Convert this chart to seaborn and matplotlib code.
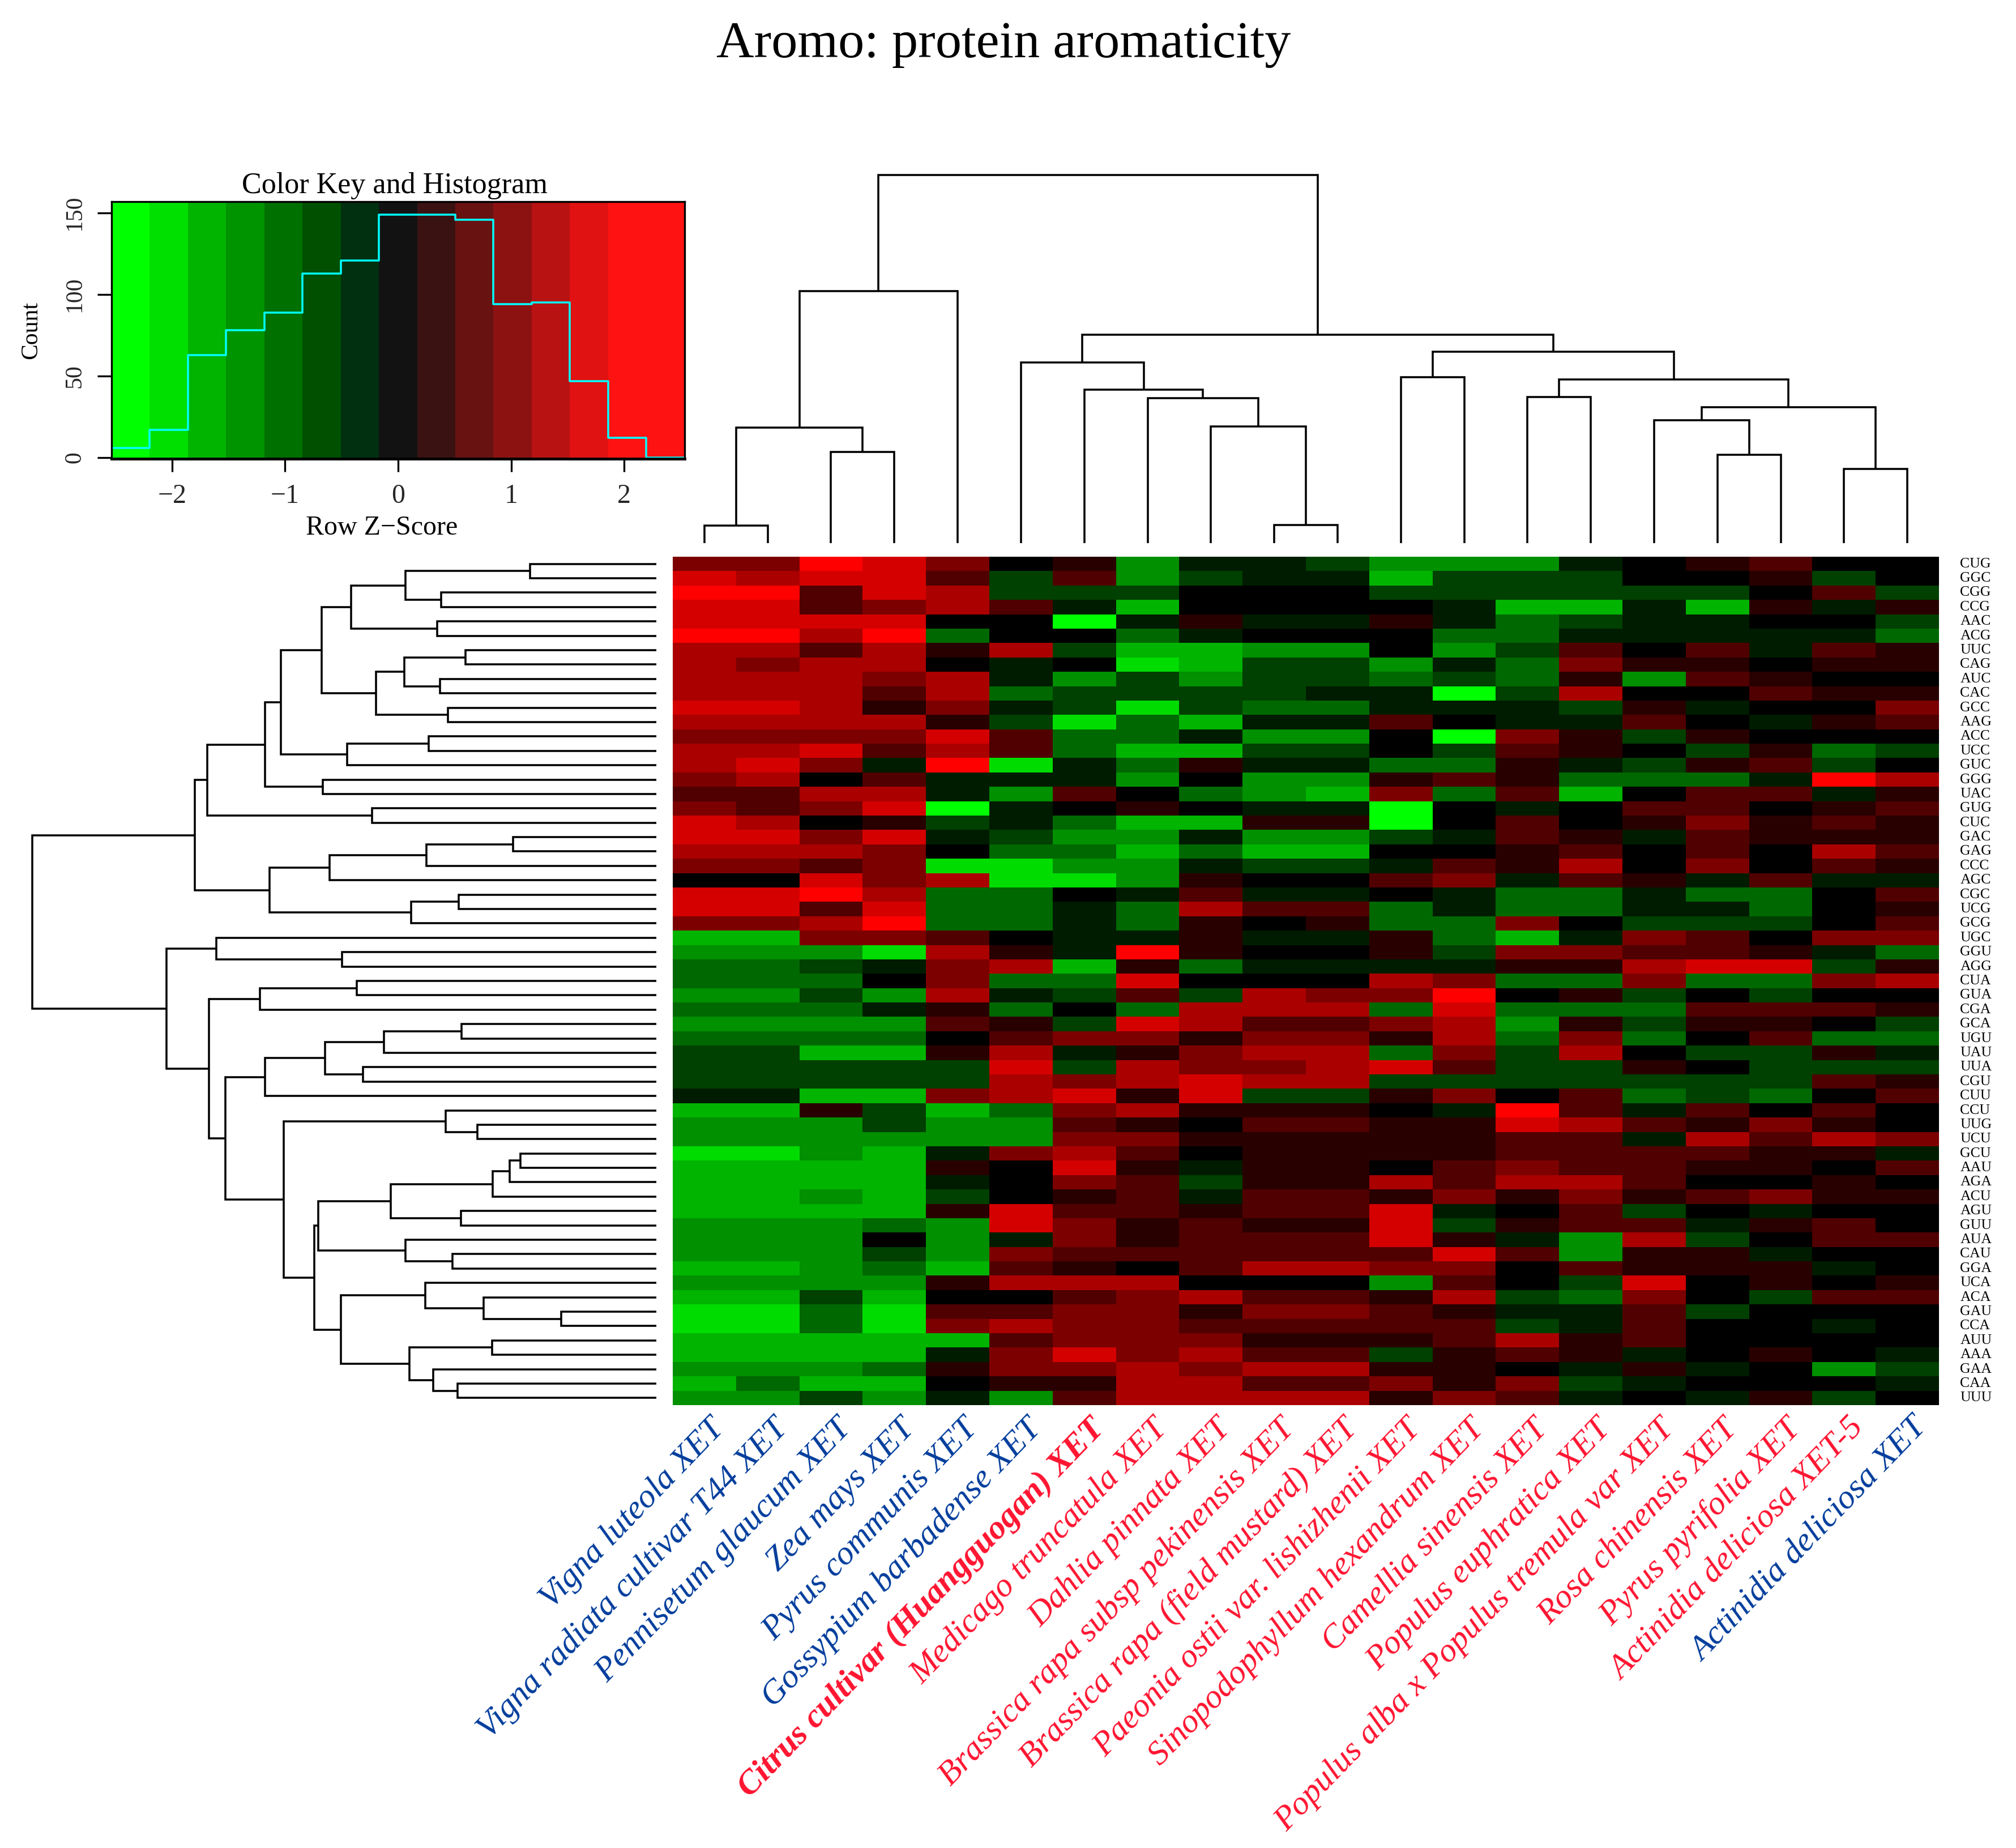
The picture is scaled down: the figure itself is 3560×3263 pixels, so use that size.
import matplotlib
matplotlib.use("Agg")
import matplotlib.pyplot as plt
from matplotlib.colors import ListedColormap
from matplotlib.transforms import ScaledTranslation
import numpy as np
import seaborn as sns

FIG_W, FIG_H = 3561, 3263

species = [
    "Vigna luteola XET", "Vigna radiata cultivar T44 XET", "Pennisetum glaucum XET",
    "Zea mays XET", "Pyrus communis XET", "Gossypium barbadense XET",
    "Citrus cultivar (Huangguogan) XET", "Medicago truncatula XET", "Dahlia pinnata XET",
    "Brassica rapa subsp pekinensis XET", "Brassica rapa (field mustard) XET",
    "Paeonia ostii var. lishizhenii XET", "Sinopodophyllum hexandrum XET",
    "Camellia sinensis XET", "Populus euphratica XET",
    "Populus alba x Populus tremula var XET", "Rosa chinensis XET",
    "Pyrus pyrifolia XET", "Actinidia deliciosa XET-5", "Actinidia deliciosa XET",
]
species_group = ["dicot"] * 6 + ["citrus"] + ["other"] * 12 + ["dicot"]

codons = [
    "CUG", "GGC", "CGG", "CCG", "AAC", "ACG", "UUC", "CAG", "AUC", "CAC",
    "GCC", "AAG", "ACC", "UCC", "GUC", "GGG", "UAC", "GUG", "CUC", "GAC",
    "GAG", "CCC", "AGC", "CGC", "UCG", "GCG", "UGC", "GGU", "AGG", "CUA",
    "GUA", "CGA", "GCA", "UGU", "UAU", "UUA", "CGU", "CUU", "CCU", "UUG",
    "UCU", "GCU", "AAU", "AGA", "ACU", "AGU", "GUU", "AUA", "CAU", "GGA",
    "UCA", "ACA", "GAU", "CCA", "AUU", "AAA", "GAA", "CAA", "UUU",
]

# shade read per cell: negative = green steps, positive = red steps
shades = [
    [3, 3, 6, 5, 3, 0, 1, -4, -1, -1, -2, -4, -4, -4, -1, 0, 1, 2, 0, 0],
    [5, 4, 5, 5, 2, -2, 2, -4, -2, -1, -1, -5, -2, -2, -2, 0, 0, 1, -2, 0],
    [6, 6, 2, 5, 4, -2, -2, -2, 0, 0, 0, -2, -2, -2, -2, -2, -2, 0, 2, -2],
    [5, 5, 2, 3, 4, 2, -1, -5, 0, 0, 0, 0, -1, -5, -5, -1, -5, 1, -1, 1],
    [5, 5, 5, 5, 0, 0, -7, -1, 1, -1, -1, 1, -1, -3, -2, -1, -1, 0, 0, -2],
    [6, 6, 4, 6, -3, 0, 0, -3, -1, 0, 0, 0, -3, -3, -1, -1, -1, -1, -1, -3],
    [4, 4, 2, 4, 1, 4, -2, -5, -5, -4, -4, 0, -4, -2, 2, 0, 2, -1, 2, 1],
    [4, 3, 4, 4, 0, -1, 0, -6, -5, -2, -2, -4, -1, -3, 3, 1, 1, 0, 1, 1],
    [4, 4, 4, 3, 4, -1, -4, -2, -4, -2, -2, -3, -2, -3, 1, -4, 2, 1, 0, 0],
    [4, 4, 4, 2, 4, -3, -2, -2, -2, -2, -1, -1, -7, -2, 4, 0, 0, 2, 1, 1],
    [5, 5, 4, 1, 3, -1, -2, -6, -2, -3, -3, -1, -1, -1, -2, 1, -1, 0, 0, 3],
    [4, 4, 4, 4, 1, -2, -6, -3, -5, -1, -1, 2, 0, -1, -1, 2, 0, -1, 1, 2],
    [3, 3, 3, 3, 5, 2, -3, -3, -1, -4, -4, 0, -7, 3, 1, -2, 1, 0, 0, 0],
    [4, 4, 5, 2, 4, 2, -3, -5, -5, -2, -2, 0, -2, 2, 1, 0, -2, 1, -3, -2],
    [4, 5, 3, -1, 6, -6, -1, -3, 1, -1, -1, -3, -3, 1, -1, -2, 1, 2, -2, 0],
    [3, 4, 0, 2, -1, -1, -1, -4, 0, -4, -4, 1, 2, 1, -3, -3, -3, -1, 6, 4],
    [2, 2, 4, 4, -1, -4, 2, 0, -3, -4, -5, 3, -3, 2, -5, 0, 2, 2, -1, 1],
    [3, 2, 3, 5, -7, -1, 0, 1, 0, -1, -1, -7, 0, -1, 0, 2, 2, 0, 1, 2],
    [5, 4, 0, 1, -2, -1, -3, -5, -5, 1, 1, -7, 0, 2, 0, 1, 3, 1, 2, 1],
    [5, 5, 3, 5, -1, -2, -4, -4, -1, -4, -4, -2, -1, 2, 1, -1, 2, 1, 1, 1],
    [4, 4, 4, 3, 0, -3, -3, -5, -3, -5, -5, 0, 0, 1, 2, 0, 2, 0, 4, 2],
    [3, 3, 2, 3, -6, -6, -4, -4, -1, -2, -2, -1, 2, 1, 4, 0, 3, 0, 2, 1],
    [0, 0, 5, 3, 4, -6, -6, -4, 1, 0, 0, 2, 3, -1, 2, 1, -1, 2, -1, -1],
    [5, 5, 6, 4, -3, -3, 0, -1, 2, -1, -1, 0, -1, -3, -3, -1, -3, -3, 0, 2],
    [5, 5, 2, 5, -3, -3, -1, -3, 4, 2, 2, -3, -1, -3, -3, -1, -1, -3, 0, 1],
    [3, 3, 4, 6, -3, -3, -1, -3, 1, 0, 1, -3, -3, 3, 0, -2, -2, -2, 0, 2],
    [-5, -5, 3, 3, 2, 0, -1, -1, 1, -1, -1, 1, -3, -5, -1, 3, 2, 0, 3, 3],
    [-4, -4, -4, -6, 4, 1, -1, 6, 1, 0, 0, 1, -2, 3, 3, 2, 2, 1, -1, -3],
    [-3, -3, -2, -1, 3, 4, -5, 1, -3, -1, -1, -1, -1, 1, 1, 4, 5, 5, -2, 1],
    [-3, -3, -3, 0, 3, -3, -3, 5, 0, 0, 0, 4, 3, -3, -3, 3, -3, -3, 3, 4],
    [-4, -4, -2, -4, 4, -1, -2, 2, -2, 4, 3, 3, 6, 0, 1, -2, 0, -2, 0, 0],
    [-3, -3, -3, -1, 1, -3, 0, -3, 4, 4, 4, -3, 5, -3, -3, -3, 2, 2, 2, 1],
    [-4, -4, -4, -4, 2, 1, -2, 5, 4, 2, 2, 3, 4, -4, 1, -2, 1, 1, 0, -2],
    [-3, -3, -3, -3, 0, 2, 3, 3, 1, 3, 3, 1, 4, -3, 3, -3, 0, 2, -3, -3],
    [-2, -2, -5, -5, 1, 4, -1, 1, 3, 4, 4, -3, 3, -2, 4, 0, -2, -2, 1, -1],
    [-2, -2, -2, -2, -2, 5, -2, 4, 3, 3, 4, 5, 2, -2, -2, 1, 0, -2, -2, -2],
    [-2, -2, -2, -2, -2, 4, 3, 4, 5, 4, 4, -2, -2, -2, -2, -2, -2, -2, 2, 1],
    [-1, -1, -5, -5, 3, 4, 5, 1, 5, -2, -2, 1, 3, 0, 2, -3, -2, -3, 0, 2],
    [-5, -5, 1, -2, -5, -3, 3, 4, 1, 1, 1, 0, -1, 6, 2, -1, 2, 0, 2, 0],
    [-4, -4, -4, -2, -4, -4, 2, 1, 0, 2, 2, 1, 1, 5, 4, 2, 1, 3, 1, 0],
    [-4, -4, -4, -4, -4, -4, 3, 3, 1, 1, 1, 1, 1, 2, 2, -1, 4, 2, 4, 3],
    [-6, -6, -4, -5, -1, 3, 4, 2, 0, 1, 1, 1, 1, 2, 2, 2, 2, 1, 1, -1],
    [-5, -5, -5, -5, 1, 0, 5, 1, -1, 1, 1, 0, 2, 3, 2, 2, 1, 1, 0, 2],
    [-5, -5, -5, -5, -1, 0, 3, 2, -2, 1, 1, 4, 2, 4, 4, 2, 0, 0, 1, 0],
    [-5, -5, -4, -5, -2, 0, 1, 2, -1, 2, 2, 1, 3, 1, 3, 1, 2, 3, 1, 1],
    [-5, -5, -5, -5, 1, 5, 2, 2, 1, 2, 2, 5, -1, 0, 2, -2, 0, -1, 0, 0],
    [-4, -4, -4, -3, -4, 5, 3, 1, 2, 1, 1, 5, -2, 1, 2, 2, -1, 1, 2, 0],
    [-4, -4, -4, 0, -4, -1, 3, 1, 2, 2, 2, 5, 1, -1, -4, 4, -2, 0, 2, 2],
    [-4, -4, -4, -2, -4, 3, 2, 2, 2, 2, 2, 2, 5, 2, -4, 1, 1, -1, 0, 0],
    [-5, -5, -4, -3, -5, 2, 1, 0, 2, 4, 4, 3, 3, 0, 2, 1, 1, 1, -1, 0],
    [-4, -4, -4, -4, 1, 4, 4, 4, 0, 0, 0, -4, 2, 0, -2, 5, 0, 1, 0, 1],
    [-5, -5, -2, -5, 0, 0, 2, 3, 4, 2, 2, 1, 4, -2, -3, 3, 0, -2, 2, 2],
    [-6, -6, -3, -6, 2, 2, 3, 3, 1, 3, 3, 2, 1, -1, -1, 2, -2, 0, 0, 0],
    [-6, -6, -3, -6, 3, 4, 3, 3, 2, 2, 2, 2, 2, -2, -1, 2, 0, 0, -1, 0],
    [-5, -5, -5, -5, -5, 2, 3, 3, 3, 1, 1, 1, 2, 4, 1, 2, 0, 0, 0, 0],
    [-5, -5, -5, -5, -1, 3, 5, 3, 4, 2, 2, -2, 1, 2, 1, -1, 0, 1, 0, -1],
    [-4, -4, -4, -3, 1, 3, 3, 4, 3, 4, 4, 1, 1, 0, -1, 1, -1, 0, -4, -2],
    [-5, -3, -5, -5, 0, 1, 1, 4, 4, 2, 2, 3, 1, 3, -2, -1, 0, 0, 0, -1],
    [-4, -4, -2, -4, -1, -4, 2, 4, 4, 4, 4, 1, 3, 2, -1, 0, -1, 1, -2, 0],
]

# step colours, from -7 up to +6
shade_colors = [
    "#00ff00", "#00dc00", "#00b400", "#009000", "#006800", "#004000", "#001c00",
    "#000000",
    "#280000", "#500000", "#7c0000", "#aa0000", "#d40000", "#ff0000",
]

# colour key histogram
key_edges = [-2.536, -2.198, -1.86, -1.522, -1.184, -0.846, -0.508, -0.17,
             0.168, 0.506, 0.844, 1.182, 1.52, 1.858, 2.196, 2.536]
key_counts = [6, 17, 63, 78, 89, 113, 121, 149, 149, 146, 94, 95, 47, 12, 0]
key_colors = ["#00ff00", "#00e000", "#00b400", "#009400", "#007000", "#005000", "#003010",
              "#121212", "#3a1212", "#681212", "#8c1212", "#b81212", "#e01212",
              "#ff1212", "#ff1212"]

# trees: (merge height, first child, second child), L is a leaf
L = None
col_tree = (650,
            (445, (204, (31, L, L), (161, L, L)), L),
            (368,
             (319, L, (271, L, (256, L, (206, L, (32, L, L))))),
             (338, (293, L, L),
              (289, (258, L, L), (240, (217, L, (156, L, L)), (131, L, L))))))
row_tree = (1101,
            (814,
             (792,
              (690,
               (662,
                (590,
                 (538, (442, (223, L, L), (379, L, L)), (386, L, L)),
                 (494, (444, (336, L, L), (381, L, L)), (367, L, L))),
                (545, (401, L, L), L)),
               (588, L, L)),
              (501, L, L)),
             (682,
              (576, (405, (253, L, L), L), L),
              (432, (348, L, L), L))),
            (864,
             (776, L, (554, L, L)),
             (789,
              (699, (528, L, L), L),
              (760,
               (690, (584, (480, (343, L, L), L), (517, L, L)), L),
               (657,
                (371, L, (315, L, L)),
                (603,
                 (596,
                  (468, (289, (259, (240, L, L), L), L), (344, L, L)),
                  (442, L, (359, L, L))),
                 (556,
                  (407, L, (305, L, (168, L, L))),
                  (435, (290, L, L), (393, L, (350, L, L))))))))))

GROUP_COLORS = {"dicot": "#003c9c", "citrus": "#ff1430", "other": "#ff1430"}
DENDRO_LW = 0.85


def axes_px(fig, left, top, right, bottom):
    return fig.add_axes([left / FIG_W, 1 - bottom / FIG_H,
                         (right - left) / FIG_W, (bottom - top) / FIG_H])


def walk_tree(node, next_leaf, segments):
    # returns (position, height) of the node, appends its U shape to segments
    if node is None:
        pos = next_leaf[0] + 0.5
        next_leaf[0] += 1
        return pos, 0
    h, first, second = node
    p1, h1 = walk_tree(first, next_leaf, segments)
    p2, h2 = walk_tree(second, next_leaf, segments)
    segments.append(([p1, p1, p2, p2], [h1, h, h, h2]))
    return (p1 + p2) / 2, h


def draw_dendrogram(ax, tree, horizontal=False):
    segments = []
    walk_tree(tree, [0], segments)
    for pos, height in segments:
        xs, ys = (height, pos) if horizontal else (pos, height)
        ax.plot(xs, ys, color="black", lw=DENDRO_LW, clip_on=False,
                solid_joinstyle="miter", solid_capstyle="butt")
    ax.axis("off")


sns.set_theme(style="white")
plt.rcParams["font.family"] = ["Liberation Serif", "DejaVu Serif"]

fig = plt.figure(figsize=(FIG_W / 300, FIG_H / 300), dpi=300)

fig.text(1772 / FIG_W, 1 - 79 / FIG_H, "Aromo: protein aromaticity",
         fontsize=22.15, ha="center", va="center", color="black")

# heat map
ax_heat = axes_px(fig, 1188, 983, 3424, 2481)
sns.heatmap(np.array(shades), ax=ax_heat, cbar=False, vmin=-7.5, vmax=6.5,
            cmap=ListedColormap(shade_colors), xticklabels=species, yticklabels=codons)
ax_heat.yaxis.tick_right()
ax_heat.tick_params(axis="y", length=0, pad=9, labelsize=6.2, labelrotation=0)
ax_heat.tick_params(axis="x", length=0, pad=8)
label_shift = ScaledTranslation(27 / 300, 0, fig.dpi_scale_trans)
for lab, group in zip(ax_heat.get_xticklabels(), species_group):
    lab.set(rotation=46, ha="right", va="center", rotation_mode="anchor",
            fontsize=14.4, style="italic", color=GROUP_COLORS[group])
    lab.set_transform(lab.get_transform() + label_shift)
    if group == "citrus":
        lab.set_fontweight("bold")
for lab in ax_heat.get_yticklabels():
    lab.set(ha="left", va="center", color="black")

# dendrograms
ax_top = axes_px(fig, 1188, 309, 3424, 958.6)
draw_dendrogram(ax_top, col_tree)
ax_top.set_xlim(0, len(species))
ax_top.set_ylim(0, col_tree[0])

ax_left = axes_px(fig, 57, 983, 1158.7, 2481)
draw_dendrogram(ax_left, row_tree, horizontal=True)
ax_left.set_xlim(row_tree[0], 0)
ax_left.set_ylim(len(codons), 0)

# colour key with histogram
ax_key = axes_px(fig, 197, 356, 1209, 810)
edges = np.array(key_edges)
ymin, ymax = -0.7, 157
ax_key.bar(edges[:-1], ymax - ymin, width=np.diff(edges), bottom=ymin, align="edge",
           color=key_colors, linewidth=0)
sns.histplot(x=(edges[:-1] + edges[1:]) / 2, weights=key_counts, bins=key_edges,
             element="step", fill=False, color="#00ffff", lw=0.85, ax=ax_key)
ax_key.set_xlim(edges[0], edges[-1])
ax_key.set_ylim(ymin, ymax)
ax_key.set_xticks([-2, -1, 0, 1, 2])
ax_key.set_yticks([0, 50, 100, 150])
ax_key.tick_params(axis="x", length=5.5, width=0.8, pad=5, labelsize=11.5,
                   bottom=True, color="black")
ax_key.tick_params(axis="y", length=6, width=0.8, pad=5, labelsize=10,
                   left=True, color="black")
for lab in ax_key.get_yticklabels():
    lab.set(rotation=90, va="center")
for side in ax_key.spines.values():
    side.set(visible=True, color="black", linewidth=0.8)
ax_key.spines["bottom"].set_linewidth(1.2)
ax_key.set_title("Color Key and Histogram", fontsize=12.5, pad=3.5, color="black", x=0.4945)
ax_key.set_xlabel("Row Z\u2212Score", fontsize=11.5, labelpad=3, color="black", x=0.471)
ax_key.set_ylabel("Count", fontsize=10, labelpad=9.3, color="black")

fig.savefig("out.png", dpi=300)
plt.close(fig)
